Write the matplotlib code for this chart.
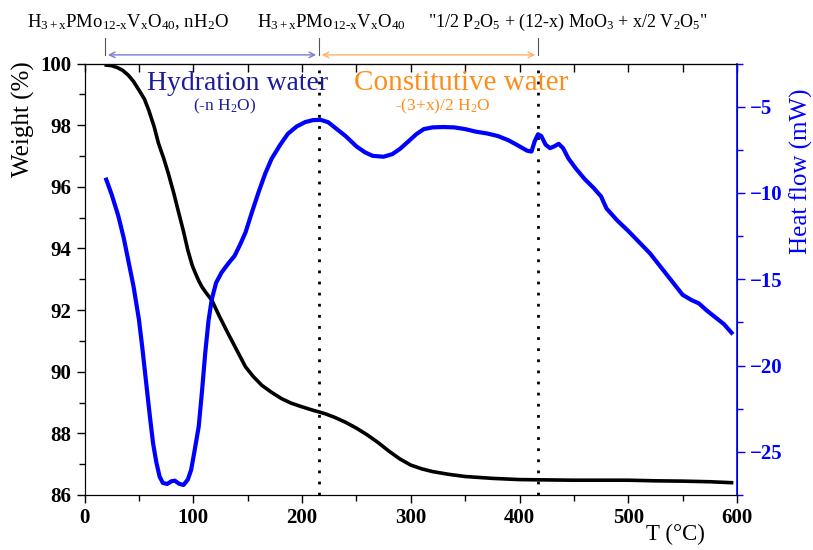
import matplotlib
matplotlib.use("Agg")
import matplotlib.pyplot as plt
from matplotlib.ticker import MultipleLocator

plt.rcParams["font.family"] = ["Liberation Serif", "DejaVu Serif"]
plt.rcParams["mathtext.fontset"] = "custom"
plt.rcParams["mathtext.rm"] = "Liberation Serif"
plt.rcParams["mathtext.it"] = "Liberation Serif:italic"
plt.rcParams["mathtext.bf"] = "Liberation Serif:bold"

# TG curve: weight (%) vs temperature
t_weight = [20, 25, 30, 35, 40, 45, 50, 55, 59, 64, 68, 73, 77, 82, 86, 91, 95,
            99, 102, 105, 108, 112, 117, 124, 132, 140, 148, 155, 163, 172, 181,
            190, 200, 210, 221, 230, 240, 250, 260, 270, 280, 290, 300, 310,
            320, 335, 350, 375, 400, 425, 450, 475, 500, 525, 550, 575, 595]
weight = [99.95, 99.93, 99.87, 99.78, 99.63, 99.42, 99.14, 98.85, 98.49, 97.95,
          97.41, 96.9, 96.44, 95.8, 95.24, 94.55, 93.94, 93.45, 93.19, 92.95,
          92.75, 92.55, 92.32, 91.8, 91.24, 90.7, 90.16, 89.85, 89.56, 89.33,
          89.13, 88.98, 88.86, 88.75, 88.64, 88.52, 88.36, 88.17, 87.95, 87.7,
          87.42, 87.17, 86.97, 86.85, 86.76, 86.67, 86.6, 86.54, 86.5, 86.49,
          86.48, 86.48, 86.48, 86.46, 86.45, 86.43, 86.4]

# DSC curve: heat flow (mW) vs temperature
t_heat = [20, 25, 31, 36, 40, 45, 50, 53, 56, 60, 63, 66, 69, 72, 76, 80, 83,
          87, 91, 95, 98, 101, 105, 108, 111, 114, 117, 121, 126, 132, 138,
          143, 148, 154, 160, 166, 172, 180, 187, 195, 203, 210, 217, 224, 230,
          240, 250, 258, 265, 275, 283, 290, 298, 305, 312, 320, 330, 340, 350,
          360, 370, 380, 390, 400, 407, 411, 414, 417, 420, 424, 428, 432, 436,
          440, 445, 452, 460, 468, 475, 480, 490, 500, 510, 520, 530, 540, 550,
          558, 565, 572, 580, 588, 595]
heat = [-9.23, -10.1, -11.32, -12.6, -13.84, -15.4, -17.33, -18.9, -20.62,
        -22.9, -24.5, -25.6, -26.43, -26.8, -26.86, -26.7, -26.67, -26.85,
        -26.92, -26.6, -26.05, -25.0, -23.53, -21.5, -19.26, -17.4, -16.16,
        -15.2, -14.61, -14.1, -13.64, -13.0, -12.29, -11.1, -9.96, -8.9, -8.02,
        -7.2, -6.57, -6.15, -5.89, -5.78, -5.76, -5.9, -6.2, -6.7, -7.3, -7.65,
        -7.85, -7.9, -7.75, -7.45, -7.0, -6.6, -6.3, -6.2, -6.18, -6.2, -6.3,
        -6.45, -6.55, -6.7, -6.95, -7.3, -7.55, -7.6, -7.0, -6.6, -6.7, -7.2,
        -7.4, -7.3, -7.15, -7.4, -8.0, -8.6, -9.2, -9.7, -10.2, -10.9, -11.6,
        -12.2, -12.85, -13.5, -14.3, -15.1, -15.9, -16.2, -16.4, -16.8, -17.2,
        -17.6, -18.1]

# transition temperatures
t_steps = [19, 215.5, 417]

phase_labels = [
    r"H$_{3+\mathrm{x}}$PMo$_{12\text{-}\mathrm{x}}$V$_\mathrm{x}$O$_{40}$, nH$_2$O",
    r"H$_{3+\mathrm{x}}$PMo$_{12\text{-}\mathrm{x}}$V$_\mathrm{x}$O$_{40}$",
    r'"1/2 P$_2$O$_5$ + (12-x) MoO$_3$ + x/2 V$_2$O$_5$"',
]

fig = plt.figure(figsize=(8.13, 5.5), dpi=100)
ax1 = fig.add_axes([0.104, 0.1, 0.8025, 0.7845])
ax2 = ax1.twinx()

ax1.plot(t_weight, weight, color="black", lw=2.6)
ax2.plot(t_heat, heat, color="#0000ff", lw=3)

ax1.set_xlim(0, 600)
ax1.set_ylim(86, 100)
ax2.set_ylim(-27.5, -2.5)

ax1.xaxis.set_major_locator(MultipleLocator(100))
ax1.xaxis.set_minor_locator(MultipleLocator(50))
ax1.yaxis.set_major_locator(MultipleLocator(2))
ax1.yaxis.set_minor_locator(MultipleLocator(1))
ax2.yaxis.set_major_locator(MultipleLocator(5))
ax2.yaxis.set_minor_locator(MultipleLocator(2.5))

ax1.tick_params(axis="both", which="both", direction="out", labelsize=15)
ax1.tick_params(which="major", length=6, width=1)
ax1.tick_params(which="minor", length=4, width=1)
for lab in ax1.get_xticklabels() + ax1.get_yticklabels():
    lab.set_fontweight("bold")

# inward ticks along the top edge
top = ax1.secondary_xaxis("top")
top.xaxis.set_major_locator(MultipleLocator(50))
top.tick_params(direction="in", length=6, width=1, labeltop=False)

ax2.spines["right"].set_color("#0000ff")
ax2.spines["right"].set_linewidth(1.2)
ax2.tick_params(axis="y", which="both", colors="#0000ff", labelsize=15)
ax2.tick_params(which="major", length=6, width=1)
ax2.tick_params(which="minor", length=4, width=1)
for lab in ax2.get_yticklabels():
    lab.set_fontweight("bold")

ax1.set_ylabel("Weight (%)", fontsize=18)
ax1.yaxis.set_label_coords(-0.076, 0.87)
ax2.set_ylabel("Heat flow (mW)", fontsize=18, color="#0000ff")
ax2.yaxis.set_label_coords(1.08, 0.75)
ax1.set_xlabel("T (°C)", fontsize=16.5)
ax1.xaxis.set_label_coords(0.905, -0.066)

for t in t_steps[1:]:
    ax1.axvline(t, color="black", ls=(0, (1, 3)), lw=2)

# phase arrows above the plot
trans = ax1.get_xaxis_transform()
arrow_y = 1.02
ax1.annotate("", xy=(t_steps[0], arrow_y), xytext=(t_steps[1], arrow_y),
             xycoords=trans, textcoords=trans, annotation_clip=False,
             arrowprops=dict(arrowstyle="<->", color="#7b7bd0", lw=1))
ax1.annotate("", xy=(t_steps[1], arrow_y), xytext=(t_steps[2], arrow_y),
             xycoords=trans, textcoords=trans, annotation_clip=False,
             arrowprops=dict(arrowstyle="<->", color="#ffb066", lw=1))
for t in t_steps:
    ax1.plot([t, t], [arrow_y, 1.058], color="#555555", lw=0.8,
             transform=trans, clip_on=False)

ax1.text(-53, 1.095, phase_labels[0], transform=trans, fontsize=13.5,
         ha="left", va="center")
ax1.text(159, 1.095, phase_labels[1], transform=trans, fontsize=13.5,
         ha="left", va="center")
ax1.text(316, 1.095, phase_labels[2], transform=trans, fontsize=13,
         ha="left", va="center")

ax1.text(141, 99.36, "Hydration water", fontsize=20, color="#1c1c9c",
         ha="center", va="center")
ax1.text(129, 98.6, r"(-n H$_2$O)", fontsize=12.5, color="#1c1c9c",
         ha="center", va="center")
ax1.text(346, 99.36, "Constitutive water", fontsize=21, color="#ff8c1a",
         ha="center", va="center")
ax1.text(329, 98.6, r"-(3+x)/2 H$_2$O", fontsize=12.5, color="#ff8c1a",
         ha="center", va="center")

fig.savefig("out.png", dpi=100)
